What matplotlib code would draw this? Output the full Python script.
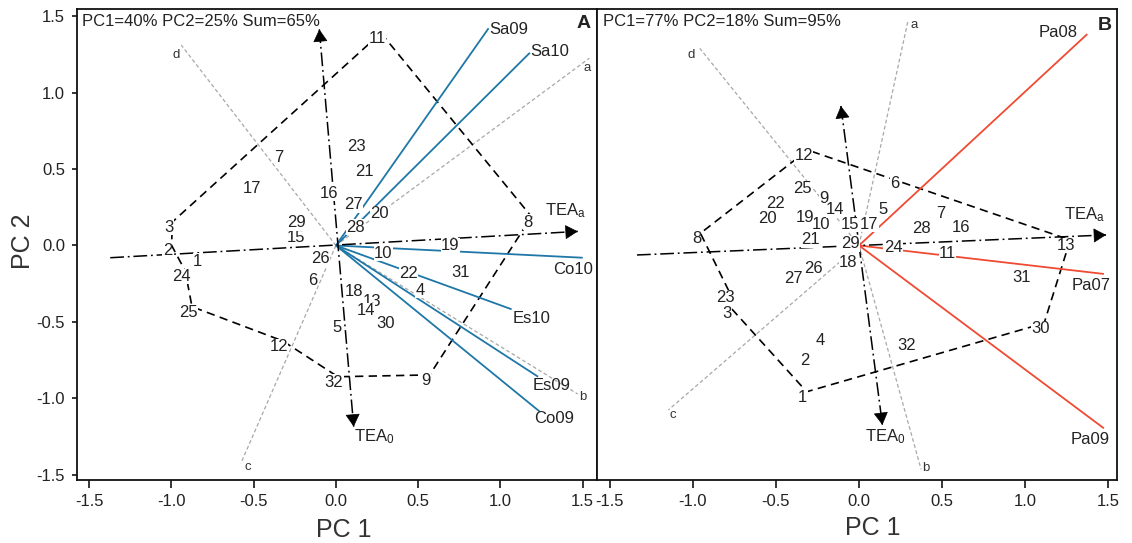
import numpy as np
import matplotlib
matplotlib.use('Agg')
import matplotlib.pyplot as plt

plt.rcParams['font.family'] = ['Liberation Sans', 'DejaVu Sans']
plt.rcParams['mathtext.fontset'] = 'custom'
plt.rcParams['mathtext.rm'] = 'Liberation Sans'
plt.rcParams['mathtext.it'] = 'Liberation Sans'

# ---------------- data ----------------
point_ids = [str(i) for i in range(1, 33)]

# Panel A scores (PC1, PC2)
a_x = [-0.815, -1.000, -0.992, 0.534, 0.028, -0.119, -0.323, 1.189, 0.570, 0.313,
       0.274, -0.323, 0.245, 0.205, -0.217, -0.016, -0.488, 0.133, 0.721, 0.289,
       0.199, 0.466, 0.152, -0.916, -0.875, -0.072, 0.133, 0.145, -0.217, 0.325,
       0.781, 0.012]
a_y = [-0.067, 0.003, 0.156, -0.258, -0.502, -0.193, 0.613, 0.188, -0.846, -0.014,
       1.389, -0.624, -0.328, -0.389, 0.090, 0.378, 0.407, -0.263, 0.033, 0.243,
       0.522, -0.149, 0.683, -0.167, -0.400, -0.051, 0.302, 0.156, 0.184, -0.472,
       -0.139, -0.858]
a_hull = [11, 8, 9, 32, 12, 25, 24, 2, 3, 11]
a_vec_names = ['Sa09', 'Sa10', 'Co10', 'Es10', 'Es09', 'Co09']
a_vec_x = [0.928, 1.179, 1.500, 1.068, 1.229, 1.239]
a_vec_y = [1.420, 1.260, -0.080, -0.417, -0.858, -1.086]
a_ray_names = ['a', 'b', 'c', 'd']
a_ray_x = [1.540, 1.470, -0.578, -0.940]
a_ray_y = [1.224, -0.971, -1.424, 1.310]
a_teaa = [(-1.372, -0.080), (1.470, 0.092)]
a_tea0 = [(-0.101, 1.413), (0.108, -1.184)]
a_title = 'PC1=40% PC2=25% Sum=65%'

# Panel B scores
b_x = [-0.315, -0.303, -0.770, -0.209, 0.169, 0.239, 0.518, -0.955, -0.189, -0.203,
       0.557, -0.309, 1.272, -0.119, -0.030, 0.637, 0.084, -0.040, -0.303, -0.527,
       -0.269, -0.478, -0.780, 0.229, -0.318, -0.249, -0.368, 0.398, -0.030, 1.115,
       1.005, 0.309]
b_y = [-0.956, -0.716, -0.410, -0.585, 0.269, 0.443, 0.243, 0.080, 0.341, 0.173,
       -0.018, 0.624, 0.036, 0.269, 0.173, 0.152, 0.173, -0.073, 0.221, 0.210,
       0.073, 0.312, -0.306, 0.025, 0.407, -0.116, -0.182, 0.145, 0.047, -0.508,
       -0.171, -0.618]
b_hull = [12, 8, 23, 3, 1, 30, 13, 12]
b_vec_names = ['Pa08', 'Pa07', 'Pa09']
b_vec_x = [1.375, 1.475, 1.475]
b_vec_y = [1.382, -0.186, -1.195]
b_ray_names = ['a', 'b', 'c', 'd']
b_ray_x = [0.294, 0.374, -1.148, -0.959]
b_ray_y = [1.463, -1.463, -1.075, 1.289]
b_teaa = [(-1.337, -0.062), (1.488, 0.069)]
b_tea0 = [(-0.109, 0.912), (0.141, -1.173)]
b_title = 'PC1=77% PC2=18% Sum=95%'

x_ticks = [-1.5, -1.0, -0.5, 0.0, 0.5, 1.0, 1.5]
y_ticks = [-1.5, -1.0, -0.5, 0.0, 0.5, 1.0, 1.5]

# ---------------- style / layout ----------------
PX = 0.72  # points per pixel at dpi 100
TXT = '#222222'
BLUE = '#1f77a8'
RED = '#ef4b32'
GRAY = '#a8a8a8'

fig = plt.figure(figsize=(11.32, 5.43), dpi=100)
axA = fig.add_axes([77 / 1132, 63 / 543, 520 / 1132, 471 / 543])
axB = fig.add_axes([597 / 1132, 63 / 543, 520 / 1132, 471 / 543])


def off(dx, dy):
    return (dx * PX, -dy * PX)


def draw_panel(ax, px, py, hull, vnames, vx, vy, vcolor, vlab_off,
               rnames, rx, ry, rlab_off, teaa, tea0, teaa_off, tea0_off,
               title, title_x, letter, letter_xy):
    # rays a-d
    for n, x, y, o in zip(rnames, rx, ry, rlab_off):
        ax.plot([0, x], [0, y], color=GRAY, lw=0.9, dashes=(3, 2), zorder=1)
        ax.annotate(n, (x, y), xytext=off(*o), textcoords='offset points',
                    ha='center', va='center', fontsize=9.5, color='#333333', zorder=4)
    # hull
    hx = [px[i - 1] for i in hull]
    hy = [py[i - 1] for i in hull]
    ax.plot(hx, hy, color='k', lw=1.2, dashes=(5, 3.2), zorder=2)
    # vectors
    for n, x, y, o in zip(vnames, vx, vy, vlab_off):
        ax.plot([0, x], [0, y], color=vcolor, lw=1.3, zorder=2.5,
                solid_capstyle='butt')
        ax.annotate(n, (x, y), xytext=off(*o), textcoords='offset points',
                    ha='center', va='center', fontsize=12, color=TXT, zorder=4)
    # TEA axes with arrows
    for seg, heads in ((teaa, [1]), (tea0, [0, 1])):
        (x0, y0), (x1, y1) = seg
        ax.plot([x0, x1], [y0, y1], color='k', lw=1.1,
                dashes=(9, 2.5, 1.2, 2.5), zorder=3)
        for h in heads:
            tip = seg[h]
            oth = seg[1 - h]
            back = (tip[0] + (oth[0] - tip[0]) * 0.02, tip[1] + (oth[1] - tip[1]) * 0.02)
            ax.annotate('', xy=tip, xytext=back,
                        arrowprops=dict(arrowstyle='-|>,head_length=0.45,head_width=0.26',
                                        color='k', lw=0.5, mutation_scale=18,
                                        shrinkA=0, shrinkB=0), zorder=3)
    ax.annotate('TEA$_\\mathrm{a}$', teaa[1], xytext=off(*teaa_off),
                textcoords='offset points', ha='left', va='center',
                fontsize=12, color=TXT, zorder=4)
    ax.annotate('TEA$_\\mathrm{0}$', tea0[1], xytext=off(*tea0_off),
                textcoords='offset points', ha='left', va='center',
                fontsize=12, color=TXT, zorder=4)
    # point labels
    for lab, x, y in zip(point_ids, px, py):
        ax.annotate(lab, (x, y), xytext=off(-4, 5.5), textcoords='offset points',
                    ha='center', va='center', fontsize=12, color=TXT, zorder=5,
                    bbox=dict(boxstyle='square,pad=0.02', fc='white', ec='none'))
    ax.text(title_x, 0.973, title, transform=ax.transAxes, ha='left',
            va='center', fontsize=12, color=TXT, zorder=6)
    ax.text(letter_xy[0], letter_xy[1], letter, transform=ax.transAxes,
            ha='center', va='center', fontsize=14, fontweight='bold',
            color=TXT, zorder=6)


draw_panel(axA, a_x, a_y, a_hull, a_vec_names, a_vec_x, a_vec_y, BLUE,
           [(20.3, 1.7), (20, -1), (-9.5, 11.6), (19.7, 9), (13.5, 9), (14.8, 7.3)],
           a_ray_names, a_ray_x, a_ray_y,
           [(-1.7, 10), (5, 2.7), (7.3, 3.4), (-5, 10)],
           a_teaa, a_tea0, (-33, -20.7), (0, 10.3),
           a_title, 0.009, 'A', (0.975, 0.970))
draw_panel(axB, b_x, b_y, b_hull, b_vec_names, b_vec_x, b_vec_y, RED,
           [(-29.3, -1.7), (-13, 11.7), (-13.3, 11)],
           b_ray_names, b_ray_x, b_ray_y,
           [(6.7, 3.3), (5, -1.6), (4.3, 5), (-8.3, 6.7)],
           b_teaa, b_tea0, (-41.6, -20), (-17.7, 11.7),
           b_title, 0.012, 'B', (0.977, 0.966))

axA.set_xlim(-1.574, 1.587)
axA.set_ylim(-1.533, 1.546)
axB.set_xlim(-1.578, 1.554)
axB.set_ylim(-1.533, 1.546)

for ax in (axA, axB):
    ax.set_xticks(x_ticks)
    ax.set_xticklabels(['%.1f' % v for v in x_ticks])
    ax.tick_params(axis='x', direction='out', length=6, width=1.1, pad=4,
                   labelsize=12, labelcolor=TXT)
    for s in ax.spines.values():
        s.set_linewidth(1.3)
        s.set_color('#111111')
    ax.set_xlabel('PC 1', fontsize=18, color='#333333', va='center')

axA.set_yticks(y_ticks)
axA.set_yticklabels(['%.1f' % v for v in y_ticks])
axA.tick_params(axis='y', direction='out', length=3.6, width=1.1, pad=5,
                labelsize=12, labelcolor=TXT)
axA.set_ylabel('PC 2', fontsize=18, color='#333333', va='center')
axA.yaxis.set_label_coords(-0.104, 0.507)
axA.xaxis.set_label_coords(0.513, -0.106)
axB.xaxis.set_label_coords(0.531, -0.102)
axB.tick_params(axis='y', left=False, labelleft=False)

fig.savefig('out.png', dpi=100)
